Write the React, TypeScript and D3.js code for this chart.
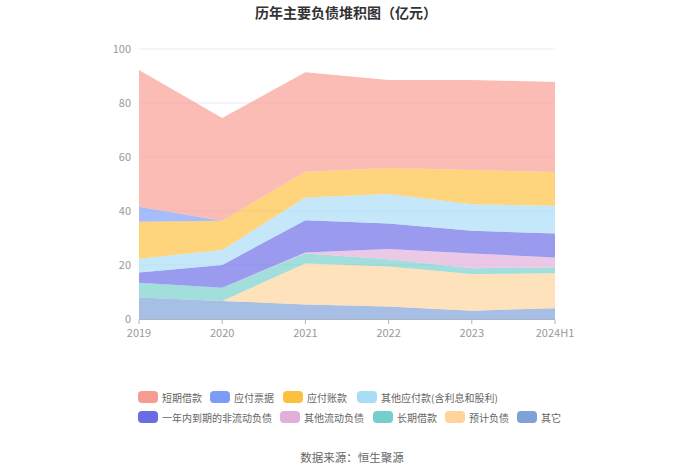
import React from "react";
import * as d3 from "d3";

const years = ["2019", "2020", "2021", "2022", "2023", "2024H1"];
const yTicks = [0, 20, 40, 60, 80, 100];

// stacking order: bottom to top
const seriesNames = ["其它", "预计负债", "长期借款", "其他流动负债", "一年内到期的非流动负债", "其他应付款(含利息和股利)", "应付账款", "应付票据", "短期借款"];
const qita = [8.0, 6.7, 5.4, 4.6, 3.1, 4.0];
const yujiFuzhai = [0, 0, 15.2, 14.8, 13.6, 12.9];
const changqiJiekuan = [5.4, 4.9, 3.7, 2.7, 2.1, 2.2];
const qitaLiudong = [0, 0, 0.3, 3.8, 5.5, 3.7];
const yinianNei = [3.8, 8.4, 12.0, 9.5, 8.4, 8.9];
const qitaYingfu = [5.1, 5.6, 8.4, 10.9, 9.8, 10.2];
const yingfuZhangkuan = [13.7, 10.8, 9.5, 9.6, 12.7, 12.5];
const yingfuPiaoju = [5.6, 0, 0, 0, 0, 0];
const duanqiJiekuan = [50.6, 38.0, 36.9, 32.6, 33.3, 33.4];
const seriesValues = [qita, yujiFuzhai, changqiJiekuan, qitaLiudong, yinianNei, qitaYingfu, yingfuZhangkuan, yingfuPiaoju, duanqiJiekuan];
const seriesColors = ["#7ea1d8", "#fed49b", "#74cfcc", "#e1b0da", "#6a6ce6", "#a8dcf7", "#fdbf3f", "#7d9cf7", "#f89c92"];

// legend order
const legendRow1 = ["短期借款", "应付票据", "应付账款", "其他应付款(含利息和股利)"];
const legendRow2 = ["一年内到期的非流动负债", "其他流动负债", "长期借款", "预计负债", "其它"];
const legendRow1X = [138, 210, 283, 357];
const legendRow2X = [138, 280, 373, 445, 517];

export default function App() {
  const W = 700, H = 473;
  const x = d3.scalePoint<string>().domain(years).range([139, 555]);
  const y = d3.scaleLinear().domain([0, 100]).range([319, 49]);

  const rows = years.map((yr, i) => {
    const r: any = { year: yr };
    seriesNames.forEach((n, k) => (r[n] = seriesValues[k][i]));
    return r;
  });
  const stacked = d3.stack<any>().keys(seriesNames)(rows);
  const area = d3
    .area<any>()
    .x((d) => x(d.data.year) as number)
    .y0((d) => y(d[0]))
    .y1((d) => y(d[1]));

  const colorOf = (n: string) => seriesColors[seriesNames.indexOf(n)];
  const font = "'Noto Sans CJK SC', 'Noto Sans', sans-serif";

  const legendItem = (name: string, lx: number, ly: number) => (
    <g key={name}>
      <rect x={lx} y={ly - 6} width={20} height={12} rx={4} fill={colorOf(name)} />
      <text x={lx + 24} y={ly} dominantBaseline="central" fontSize={10} fill="#666" fontFamily={font}>
        {name}
      </text>
    </g>
  );

  return (
    <svg width={W} height={H} style={{ position: "absolute", left: 0, top: 0, background: "#fff" }}>
      <text x={346} y={12} textAnchor="middle" dominantBaseline="central" fontSize={14} fontWeight="bold" fill="#333" fontFamily={font}>
        历年主要负债堆积图（亿元）
      </text>
      {yTicks.map((t) => (
        <g key={t}>
          {t > 0 && <line x1={139} x2={555} y1={y(t)} y2={y(t)} stroke="#e6eaf2" strokeWidth={1} />}
          <text x={131} y={y(t) - 1} textAnchor="end" dominantBaseline="central" fontSize={11} fill="#999" fontFamily={font}>
            {t}
          </text>
        </g>
      ))}
      {stacked.map((s) => (
        <path key={s.key} d={area(s) as string} fill={colorOf(s.key)} fillOpacity={0.68} stroke="none" />
      ))}
      <line x1={139} x2={555} y1={319.5} y2={319.5} stroke="#aab4c4" strokeWidth={1} />
      {years.map((yr) => (
        <g key={yr}>
          <line x1={x(yr)} x2={x(yr)} y1={319.5} y2={324} stroke="#aab4c4" strokeWidth={1} />
          <text x={x(yr)} y={332} textAnchor="middle" dominantBaseline="central" fontSize={11} fill="#999" fontFamily={font}>
            {yr}
          </text>
        </g>
      ))}
      {legendRow1.map((n, i) => legendItem(n, legendRow1X[i], 397))}
      {legendRow2.map((n, i) => legendItem(n, legendRow2X[i], 417))}
      <text x={352} y={457} textAnchor="middle" dominantBaseline="central" fontSize={11.5} fill="#666" fontFamily={font}>
        数据来源：恒生聚源
      </text>
    </svg>
  );
}
